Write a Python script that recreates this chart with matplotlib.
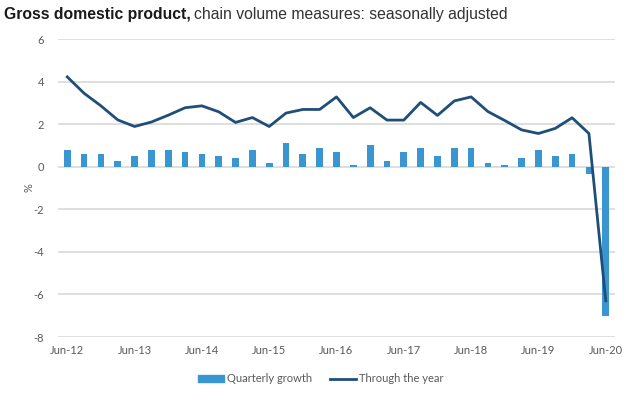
import numpy as np
import matplotlib
matplotlib.use("Agg")
import matplotlib.pyplot as plt
from matplotlib.patches import Patch
from matplotlib.lines import Line2D

plt.rcParams["axes.unicode_minus"] = False

# Quarterly data Jun-12 .. Jun-20
quarters = ["Jun-12", "Sep-12", "Dec-12", "Mar-13",
            "Jun-13", "Sep-13", "Dec-13", "Mar-14",
            "Jun-14", "Sep-14", "Dec-14", "Mar-15",
            "Jun-15", "Sep-15", "Dec-15", "Mar-16",
            "Jun-16", "Sep-16", "Dec-16", "Mar-17",
            "Jun-17", "Sep-17", "Dec-17", "Mar-18",
            "Jun-18", "Sep-18", "Dec-18", "Mar-19",
            "Jun-19", "Sep-19", "Dec-19", "Mar-20",
            "Jun-20"]
quarterly_growth = [0.78, 0.6, 0.6, 0.27, 0.5, 0.78, 0.78, 0.69,
                    0.6, 0.5, 0.4, 0.78, 0.19, 1.1, 0.6, 0.87,
                    0.69, 0.08, 1.0, 0.27, 0.69, 0.87, 0.5, 0.87,
                    0.87, 0.17, 0.08, 0.4, 0.78, 0.5, 0.6, -0.33,
                    -7.0]
through_year = [4.22, 3.45, 2.86, 2.2, 1.89, 2.1, 2.42, 2.77,
                2.86, 2.58, 2.08, 2.31, 1.89, 2.52, 2.69, 2.69,
                3.28, 2.31, 2.77, 2.19, 2.19, 3.02, 2.41, 3.09,
                3.28, 2.59, 2.17, 1.73, 1.56, 1.8, 2.3, 1.56,
                -6.3]
yticks = [-8, -6, -4, -2, 0, 2, 4, 6]

bar_color = "#3a96d0"
line_color = "#1f4e79"
tick_color = "#595959"

fig = plt.figure(figsize=(6.24, 3.96), dpi=100)
ax = fig.add_axes([58 / 624, 1 - 337 / 396, (615 - 58) / 624, (337 - 39) / 396])

x = np.arange(len(quarters))
ax.bar(x, quarterly_growth, width=0.4, color=bar_color, zorder=2)
ax.plot(x, through_year, color=line_color, lw=2, zorder=3)

ax.set_xlim(-0.55, len(quarters) - 1 + 0.55)
ax.set_ylim(-8, 6)
ax.set_yticks(yticks)
ax.set_xticks(x[::4])
ax.set_xticklabels(quarters[::4])
ax.grid(axis="y", color="#d9d9d9", lw=1.2, zorder=0)
for s in ax.spines.values():
    s.set_visible(False)
ax.tick_params(length=0, labelsize=8, colors=tick_color, labelfontfamily="Lato")
ax.tick_params(axis="x", pad=6)
ax.tick_params(axis="y", pad=10)
ax.set_ylabel("%", fontsize=8, color=tick_color, family="Lato", labelpad=-1)

handles = [Patch(color=bar_color, label="Quarterly growth"),
           Line2D([], [], color=line_color, lw=2, label="Through the year")]
fig.legend(handles=handles, loc="center", bbox_to_anchor=(321 / 624, 1 - 379 / 396),
           ncol=2, frameon=False, prop={"family": "Lato", "size": 8},
           labelcolor=tick_color, handlelength=2.3, handleheight=0.5,
           columnspacing=1.6, handletextpad=0.3)

# Title: bold part + normal part
t1 = fig.text(4 / 624, 1 - 14 / 396, "Gross domestic product,", fontsize=11.3,
              weight="bold", family="Liberation Sans", va="center", color="#1a1a1a")
fig.canvas.draw()
bb = t1.get_window_extent()
fig.text(bb.x1 / fig.bbox.width + 3 / 624, 1 - 14 / 396,
         "chain volume measures: seasonally adjusted", fontsize=11.3,
         family="Liberation Sans", va="center", color="#333333")

fig.savefig("out.png", dpi=100)
